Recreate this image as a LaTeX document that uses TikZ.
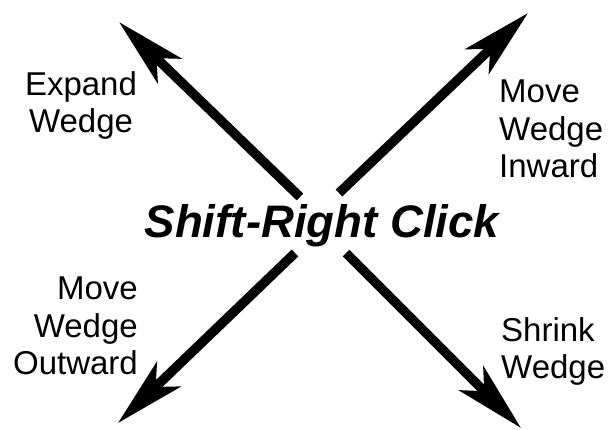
\documentclass[tikz,border=0pt]{standalone}
\usepackage{fontspec}
\setmainfont{Liberation Sans}
\usetikzlibrary{arrows.meta}
\begin{document}
\begin{tikzpicture}[x=1pt,y=-1pt,
  arr/.style={line width=9.5pt,-{Stealth[length=70pt,width=34pt,inset=18pt]}},
  lbl/.style={inner sep=0pt,font=\fontsize{33}{37.5}\selectfont},
  big/.style={inner sep=0pt,font=\fontsize{45.6}{50}\selectfont\bfseries\itshape}]
\useasboundingbox (0,0) rectangle (612,429);
\coordinate (tl0) at (300,197);
\coordinate (tl1) at (119,22);
\coordinate (tr0) at (339,193);
\coordinate (tr1) at (528,13);
\coordinate (bl0) at (295,253);
\coordinate (bl1) at (118,423);
\coordinate (br0) at (346,253);
\coordinate (br1) at (521,428);
\draw[arr] (tl0) -- (tl1);
\draw[arr] (tr0) -- (tr1);
\draw[arr] (bl0) -- (bl1);
\draw[arr] (br0) -- (br1);
\node[big,anchor=base] (c) at (322,237) {Shift-Right Click};
\node[lbl,anchor=north,align=center] (ew) at (81,71) {Expand\\Wedge};
\node[lbl,anchor=north west,align=left] (mi) at (499,80) {Move\\Wedge\\Inward};
\node[lbl,anchor=north east,align=right] (mo) at (138,277) {Move\\Wedge\\Outward};
\node[lbl,anchor=north west,align=left] (sw) at (501,317) {Shrink\\Wedge};
\end{tikzpicture}
\end{document}
